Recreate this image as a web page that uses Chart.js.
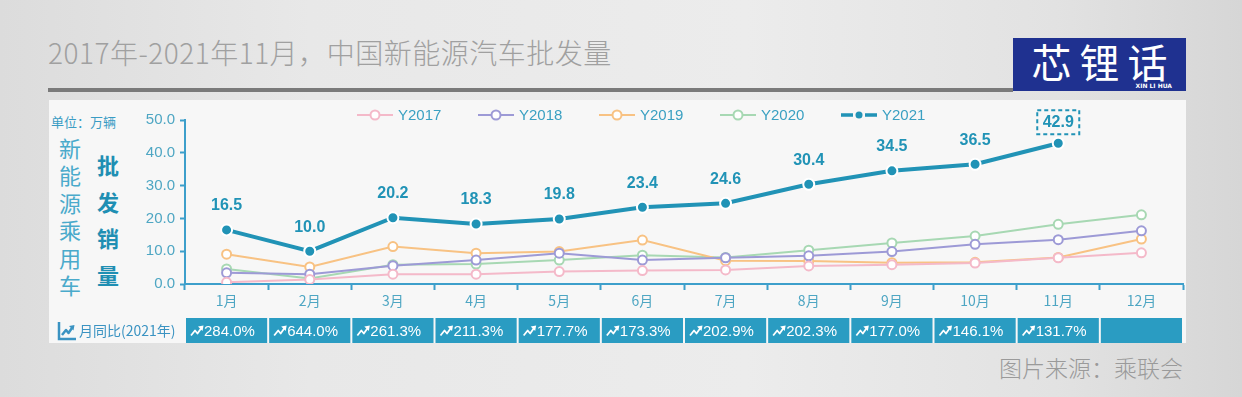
<!DOCTYPE html>
<html>
<head>
<meta charset="utf-8">
<script src="https://cdn.jsdelivr.net/npm/chart.js@4/dist/chart.umd.min.js"></script>
<style>
  html, body { margin: 0; padding: 0; }
  body {
    width: 1242px; height: 397px; position: relative; overflow: hidden;
    background: linear-gradient(90deg, #dcdcdc 0%, #e8e8e8 25%, #ececec 60%, #e2e2e2 85%, #d6d6d6 100%);
    font-family: "Noto Sans CJK SC", "Noto Sans", sans-serif;
  }
  .title { position: absolute; left: 48px; top: 32px; font-size: 28px; font-weight: 300; color: #a0a0a0; white-space: nowrap; letter-spacing: 0.5px; }
  .rule { position: absolute; left: 48px; top: 88px; width: 965px; height: 4px; background: #7a7a7a; }
  .logo { position: absolute; left: 1013px; top: 38px; width: 173px; height: 53px; background: #1f3190; color: #fff; }
  .logo .big { position: absolute; left: 4px; top: 1px; width: 173px; text-align: center; font-size: 40px; font-weight: normal; line-height: 44px; letter-spacing: 8px; }
  .logo .small { position: absolute; right: 14px; bottom: 2px; font-size: 6px; font-family: "DejaVu Sans", sans-serif; font-weight: bold; }
  .panel { position: absolute; left: 49px; top: 100px; width: 1137px; height: 243px; background: #f7f7f7; }
  .unit { position: absolute; left: 51px; top: 112px; font-size: 13px; color: #3a9cc4; white-space: nowrap; }
  .v1 { position: absolute; left: 58px; top: 134px; width: 24px; text-align: center; font-size: 22px; line-height: 27.4px; color: #4aaacb; }
  .v2 { position: absolute; left: 96px; top: 146px; width: 24px; text-align: center; font-size: 22px; line-height: 36.7px; font-weight: bold; color: #1f8fb3; }
  .source { position: absolute; right: 59px; top: 350px; font-size: 23px; font-weight: 300; color: #9a9a9a; white-space: nowrap; }
  #chart { position: absolute; left: 0; top: 0; }
</style>
</head>
<body>
<div class="title">2017年-2021年11月，中国新能源汽车批发量</div>
<div class="rule"></div>
<div class="logo"><div class="big">芯锂话</div><div class="small">XIN LI HUA</div></div>
<div class="panel"></div>
<div class="unit">单位：万辆</div>
<div class="v1">新<br>能<br>源<br>乘<br>用<br>车</div>
<div class="v2">批<br>发<br>销<br>量</div>
<div class="source">图片来源：乘联会</div>
<canvas id="chart" width="1242" height="397"></canvas>
<script>
'use strict';

const months = ['1月', '2月', '3月', '4月', '5月', '6月', '7月', '8月', '9月', '10月', '11月', '12月'];
const y2017 = [0.5, 1.4, 3.0, 3.0, 3.8, 4.1, 4.3, 5.5, 5.9, 6.4, 8.0, 9.5];
const y2018 = [3.4, 3.0, 5.6, 7.3, 9.4, 7.3, 8.0, 8.6, 9.9, 12.1, 13.5, 16.2];
const y2019 = [9.1, 5.2, 11.4, 9.4, 9.9, 13.4, 7.1, 7.0, 6.5, 6.6, 8.1, 13.7];
const y2020 = [4.6, 1.7, 5.9, 6.1, 7.3, 8.8, 8.1, 10.3, 12.5, 14.6, 18.2, 21.1];
const y2021 = [16.5, 10.0, 20.2, 18.3, 19.8, 23.4, 24.6, 30.4, 34.5, 36.5, 42.9, null];
const yoy2021 = [284.0, 644.0, 261.3, 211.3, 177.7, 173.3, 202.9, 202.3, 177.0, 146.1, 131.7, null];

const TEAL = '#2193b6';
const AXIS = '#3d9fcb';
const TICK_TEXT = '#4ea6c3';
const CJK = '"Noto Sans CJK SC", sans-serif';
const LATIN = '"Liberation Sans", Arial, sans-serif';

const series = [
  { label: 'Y2017', data: y2017, color: '#f4b9c9' },
  { label: 'Y2018', data: y2018, color: '#9d9ad6' },
  { label: 'Y2019', data: y2019, color: '#f8c283' },
  { label: 'Y2020', data: y2020, color: '#a7d8b3' },
];

const datasets = series.map((s) => ({
  label: s.label,
  data: s.data,
  borderColor: s.color,
  backgroundColor: '#ffffff',
  borderWidth: 2,
  pointRadius: 4.5,
  pointBorderWidth: 2,
  pointBorderColor: s.color,
  pointBackgroundColor: '#ffffff',
  order: 1,
}));
datasets.push({
  label: 'Y2021',
  data: y2021,
  borderColor: TEAL,
  backgroundColor: TEAL,
  borderWidth: 4,
  pointRadius: 5.5,
  pointBorderWidth: 2,
  pointBorderColor: '#ffffff',
  pointBackgroundColor: TEAL,
  order: 0,
});

// legend drawn across the top of the plot, like the original
const legendPlugin = {
  id: 'topLegend',
  afterDraw(chart) {
    const { ctx } = chart;
    const y = chart.chartArea.top - 5;
    const startX = chart.chartArea.left + 172;
    ctx.save();
    chart.data.datasets.forEach((ds, i) => {
      const x = startX + i * 121;
      ctx.strokeStyle = ds.borderColor;
      if (ds.label === 'Y2021') {
        ctx.lineWidth = 3.5;
        ctx.beginPath();
        ctx.moveTo(x, y); ctx.lineTo(x + 12, y);
        ctx.moveTo(x + 24, y); ctx.lineTo(x + 36, y);
        ctx.stroke();
        ctx.fillStyle = ds.borderColor;
        ctx.beginPath(); ctx.arc(x + 18, y, 3.5, 0, Math.PI * 2); ctx.fill();
      } else {
        ctx.lineWidth = 2;
        ctx.beginPath();
        ctx.moveTo(x, y); ctx.lineTo(x + 36, y);
        ctx.stroke();
        ctx.fillStyle = '#ffffff';
        ctx.beginPath(); ctx.arc(x + 18, y, 4.5, 0, Math.PI * 2); ctx.fill(); ctx.stroke();
      }
      ctx.fillStyle = '#3aa0c2';
      ctx.font = '15px ' + LATIN;
      ctx.textBaseline = 'middle';
      ctx.textAlign = 'left';
      ctx.fillText(ds.label, x + 41, y + 1);
    });
    ctx.restore();
  },
};

// value labels over the 2021 line, last one boxed
const valueLabels = {
  id: 'valueLabels',
  afterDatasetsDraw(chart) {
    const { ctx } = chart;
    const idx = chart.data.datasets.findIndex((d) => d.label === 'Y2021');
    const meta = chart.getDatasetMeta(idx);
    const data = chart.data.datasets[idx].data;
    let last = -1;
    data.forEach((v, i) => { if (v != null) last = i; });
    ctx.save();
    ctx.font = 'bold 16px ' + LATIN;
    ctx.fillStyle = TEAL;
    ctx.textAlign = 'center';
    ctx.textBaseline = 'middle';
    meta.data.forEach((pt, i) => {
      const v = data[i];
      if (v == null) return;
      const ty = pt.y - (i === last ? 21 : 24);
      ctx.fillText(v.toFixed(1), pt.x, ty);
      if (i === last) {
        ctx.strokeStyle = TEAL;
        ctx.lineWidth = 2;
        ctx.setLineDash([4, 3]);
        ctx.strokeRect(pt.x - 21, ty - 12, 42, 24);
        ctx.setLineDash([]);
      }
    });
    ctx.restore();
  },
};

function trendIcon(ctx, x, y, color, lw) {
  ctx.strokeStyle = color;
  ctx.fillStyle = color;
  ctx.lineWidth = lw;
  ctx.lineJoin = 'round';
  ctx.beginPath();
  ctx.moveTo(x, y + 4);
  ctx.lineTo(x + 4, y - 1);
  ctx.lineTo(x + 6.5, y + 2);
  ctx.lineTo(x + 10, y - 3);
  ctx.stroke();
  ctx.beginPath();
  ctx.moveTo(x + 7, y - 5);
  ctx.lineTo(x + 12.5, y - 6);
  ctx.lineTo(x + 11.5, y - 0.5);
  ctx.closePath();
  ctx.fill();
}

// month-on-month yoy row under the x axis
const yoyRow = {
  id: 'yoyRow',
  afterDraw(chart) {
    const { ctx } = chart;
    const x = chart.scales.x;
    const top = 318, h = 25, mid = top + h / 2;
    const half = (x.getPixelForValue(1) - x.getPixelForValue(0)) / 2;
    ctx.save();
    // row label with small chart icon
    ctx.strokeStyle = '#3a93c2';
    ctx.lineWidth = 2.5;
    ctx.beginPath();
    ctx.moveTo(59, 322); ctx.lineTo(59, 339); ctx.lineTo(76, 339);
    ctx.stroke();
    trendIcon(ctx, 62, 331, '#3a93c2', 2.5);
    ctx.fillStyle = '#3a93c2';
    ctx.font = '14px ' + CJK;
    ctx.textBaseline = 'middle';
    ctx.textAlign = 'left';
    ctx.fillText('月同比(2021年)', 79, mid);

    months.forEach((m, i) => {
      const cx = x.getPixelForValue(i);
      ctx.fillStyle = '#2a9cc2';
      ctx.fillRect(cx - half + 1, top, half * 2 - 2, h);
      const v = yoy2021[i];
      if (v == null) return;
      const lx = cx - half + 6;
      trendIcon(ctx, lx, mid + 1, '#ffffff', 1.8);
      ctx.fillStyle = '#ffffff';
      ctx.font = '15px ' + LATIN;
      ctx.fillText(v.toFixed(1) + '%', lx + 13, mid + 1);
    });
    ctx.restore();
  },
};

new Chart(document.getElementById('chart'), {
  type: 'line',
  data: { labels: months, datasets },
  plugins: [legendPlugin, valueLabels, yoyRow],
  options: {
    responsive: false,
    animation: false,
    devicePixelRatio: 1,
    layout: { padding: { left: 140, right: 59, top: 120, bottom: 83 } },
    plugins: {
      legend: { display: false },
      tooltip: { enabled: false },
    },
    scales: {
      x: {
        offset: true,
        afterFit: (s) => { s.height = 30; },
        grid: { drawOnChartArea: false, drawTicks: true, tickLength: 6, tickColor: AXIS, tickWidth: 2, offset: true },
        border: { display: true, color: AXIS, width: 2 },
        ticks: { color: TICK_TEXT, font: { size: 14, family: CJK }, padding: 2, maxRotation: 0 },
      },
      y: {
        min: 0,
        max: 50,
        afterFit: (s) => { s.width = 45; },
        grid: { drawOnChartArea: false, drawTicks: true, tickLength: 5, tickColor: AXIS, tickWidth: 2 },
        border: { display: true, color: AXIS, width: 2 },
        ticks: {
          stepSize: 10,
          color: TICK_TEXT,
          font: { size: 15, family: LATIN },
          padding: 5,
          callback: (v) => v.toFixed(1),
        },
      },
    },
  },
});
</script>
</body>
</html>
